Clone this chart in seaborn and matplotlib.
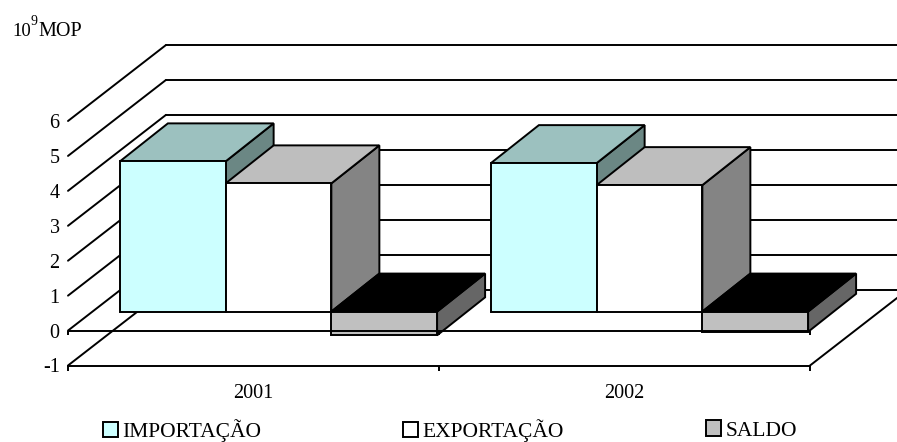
import matplotlib
matplotlib.use("Agg")
import matplotlib.pyplot as plt
from matplotlib.patches import Patch, Polygon
import pandas as pd
import seaborn as sns

# valores (10^9 MOP)
YEARS = ["2001", "2002"]
SERIES = ["IMPORTAÇÃO", "EXPORTAÇÃO", "SALDO"]
IMPORTACAO = [4.30, 4.25]
EXPORTACAO = [3.67, 3.62]
SALDO = [-0.68, -0.58]
Y_TICKS = [-1, 0, 1, 2, 3, 4, 5, 6]

FRONT_COLORS = ["#CCFFFF", "#FFFFFF", "#C0C0C0"]
TOP_COLORS = ["#9CC1BF", "#BEBEBE", "#000000"]
SIDE_COLORS = ["#6B8784", "#848484", "#666666"]

W, H = 897, 442
LW = 1.4
UNIT_X = 742 / 2      # px por categoria
UNIT_Y = 244.5 / 7    # px por unidade

# falsa perspectiva do excel, em unidades dos dados
WALL_DX, WALL_DY = 98 / UNIT_X, 76 / UNIT_Y
BAR_OFF_X, BAR_OFF_Y = 25 / UNIT_X, 19 / UNIT_Y
BAR_DX, BAR_DY = 48 / UNIT_X, 38 / UNIT_Y

sns.set_theme(style="white")
plt.rcParams["font.family"] = ["Liberation Serif", "DejaVu Serif"]
for key in ["text.color", "axes.labelcolor", "xtick.color", "ytick.color", "axes.edgecolor"]:
    plt.rcParams[key] = "black"

df = pd.DataFrame({
    "ano": YEARS * 3,
    "serie": [s for s in SERIES for _ in YEARS],
    "valor": IMPORTACAO + EXPORTACAO + SALDO,
})

fig = plt.figure(figsize=(W / 100, H / 100), dpi=100)
ax = fig.add_axes([68 / W, (H - 365.5) / H, 742 / W, 244.5 / H])
ax.patch.set_alpha(0)

sns.barplot(data=df, x="ano", y="valor", hue="serie", order=YEARS, hue_order=SERIES,
            palette=dict(zip(SERIES, FRONT_COLORS)), width=0.855, saturation=1,
            edgecolor="black", linewidth=LW, legend=False, ax=ax, clip_on=False)
ax.set_xlim(-0.5, 1.5)
ax.set_ylim(-1, 6)
ax.set_xlabel("")
ax.set_ylabel("")

# paredes e chao
for v in Y_TICKS:
    ax.plot([-0.5 + WALL_DX, 1.5 + WALL_DX], [v + WALL_DY] * 2, color="black", lw=LW,
            zorder=1, clip_on=False)
    ax.plot([-0.5, -0.5 + WALL_DX], [v, v + WALL_DY], color="black", lw=LW,
            zorder=1, clip_on=False)
ax.plot([1.5, 1.5 + WALL_DX], [-1, -1 + WALL_DY], color="black", lw=LW, zorder=1, clip_on=False)

# faces das barras, da esquerda para a direita
z = 2
bars = [(i, p) for i, c in enumerate(ax.containers) for p in c]
bars.sort(key=lambda t: t[1].get_x())
for i, p in bars:
    p.set_x(p.get_x() + BAR_OFF_X)
    p.set_y(p.get_y() + BAR_OFF_Y)
    x0, x1 = p.get_x(), p.get_x() + p.get_width()
    y0, y1 = sorted([p.get_y(), p.get_y() + p.get_height()])
    side = [(x1, y0), (x1 + BAR_DX, y0 + BAR_DY), (x1 + BAR_DX, y1 + BAR_DY), (x1, y1)]
    top = [(x0, y1), (x0 + BAR_DX, y1 + BAR_DY), (x1 + BAR_DX, y1 + BAR_DY), (x1, y1)]
    ax.add_patch(Polygon(side, fc=SIDE_COLORS[i], ec="black", lw=LW, zorder=z, clip_on=False))
    ax.add_patch(Polygon(top, fc=TOP_COLORS[i], ec="black", lw=LW, zorder=z, clip_on=False))
    p.set_zorder(z + 0.5)
    z += 1

# linha do zero passa por cima do saldo
ax.axhline(0, color="black", lw=LW, zorder=z)
ax.vlines([-0.5, 0.5, 1.5], -0.13, 0, color="black", lw=LW, zorder=z, clip_on=False)

sns.despine(ax=ax, left=True, top=True, right=True)
ax.spines["bottom"].set_linewidth(LW)
ax.spines["bottom"].set_zorder(z)

ax.set_yticks(Y_TICKS)
ax.set_yticklabels([str(v) for v in Y_TICKS], fontsize=14.5)
ax.tick_params(axis="y", length=0, pad=6)
ax.set_xticks([-0.5, 0.5, 1.5])
ax.set_xticklabels([])
ax.set_xticks([0, 1], minor=True)
ax.set_xticklabels(YEARS, minor=True)
ax.tick_params(axis="x", which="major", length=3.5, width=LW, bottom=True)
ax.tick_params(axis="x", which="minor", length=0, pad=13, bottom=False, labelsize=14.5)

# titulo do eixo
fig.text(12 / W, (H - 36) / H, "10", fontsize=13.5, va="baseline")
fig.text(30 / W, (H - 25) / H, "9", fontsize=10, va="baseline")
fig.text(38 / W, (H - 36) / H, "MOP", fontsize=14.5, va="baseline")

# legenda: tres entradas espacadas como no excel
for name, color, left in zip(SERIES, FRONT_COLORS, [103, 403, 706]):
    fig.legend(handles=[Patch(fc=color, ec="black", lw=LW, label=name)], frameon=False,
               loc="center left", bbox_to_anchor=(left / W, (H - 430.5) / H),
               fontsize=15.5, borderpad=0, borderaxespad=0,
               handlelength=0.7, handleheight=0.7, handletextpad=0.2)

fig.savefig("out.png", dpi=100)
